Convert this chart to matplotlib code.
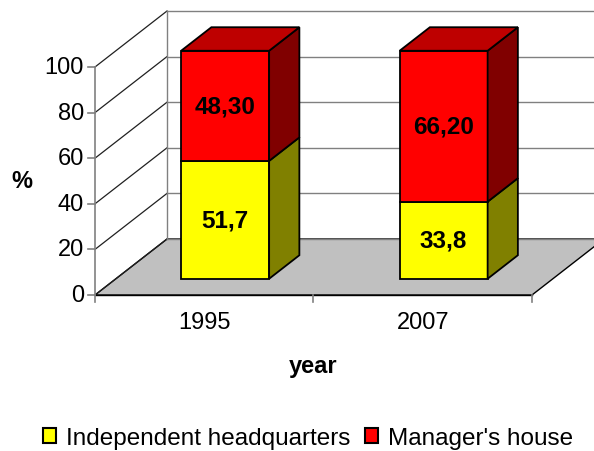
import matplotlib.pyplot as plt
from matplotlib.patches import Polygon, Patch

plt.rcParams['font.family'] = ['Liberation Sans', 'DejaVu Sans']

# Data
years = ['1995', '2007']
independent = [51.7, 33.8]
manager = [48.3, 66.2]
series_names = ['Independent headquarters', "Manager's house"]
y_ticks = [0, 20, 40, 60, 80, 100]

# Colours (front, side, top)
yellow = ('#FFFF00', '#808000', '#C0C000')
red = ('#FF0000', '#800000', '#BE0000')

# Layout in pixels of the 594x452 picture
W, H = 594, 452
x0_px, cat_px = 95, 218.5        # front-left corner, width of one category
y0_px, pct_px = 296, 2.28        # y of 0 %, pixels per percent
DX = 72 / cat_px                 # full depth offset in data units
DY = 56 / pct_px
bar_w = 88 / cat_px
z_front, z_back = 0.29, 0.71


def proj(x, y, z):
    return (x + z * DX, y + z * DY)


fig = plt.figure(figsize=(W / 100, H / 100), dpi=100)
ax = fig.add_axes([0, 0, 1, 1])
ax.set_xlim(-x0_px / cat_px, (W - x0_px) / cat_px)
ax.set_ylim(-(H - y0_px) / pct_px, y0_px / pct_px)
ax.axis('off')

ncat = len(years)
top = y_ticks[-1]

# floor
floor = [proj(0, 0, 0), proj(ncat, 0, 0), proj(ncat, 0, 1), proj(0, 0, 1)]
ax.add_patch(Polygon(floor, closed=True, facecolor='#C0C0C0', edgecolor='black', lw=1, zorder=1))

# walls and gridlines
for v in y_ticks:
    xs, ys = zip(proj(0, v, 0), proj(0, v, 1))
    ax.plot(xs, ys, color='#202020', lw=0.9, zorder=2)
    xs, ys = zip(proj(0, v, 1), proj(ncat, v, 1))
    ax.plot(xs, ys, color='#808080', lw=1, zorder=2)
xs, ys = zip(proj(0, 0, 1), proj(0, top, 1))
ax.plot(xs, ys, color='#808080', lw=1, zorder=2)

# front axes
ax.plot([0, 0], [0, top], color='#808080', lw=1.2, zorder=2)
ax.plot([0, ncat], [0, 0], color='black', lw=1, zorder=2)
tick_y = 7 / pct_px
tick_x = 7 / cat_px
for v in y_ticks:
    ax.plot([-tick_x, 0], [v, v], color='#808080', lw=1.2, zorder=2)
    ax.text(-11 / cat_px, v, str(v), ha='right', va='center', fontsize=17)
for i in range(ncat + 1):
    ax.plot([i, i], [0, -tick_y], color='#808080', lw=1.2, zorder=2)
for i, yr in enumerate(years):
    ax.text(i + 0.5, -27 / pct_px, yr, ha='center', va='center', fontsize=17)

ax.text(-73 / cat_px, 114 / pct_px, '%', ha='center', va='center', fontsize=17, fontweight='bold')
ax.text(ncat / 2, -71 / pct_px, 'year', ha='center', va='center', fontsize=17, fontweight='bold')


def box(xc, y_lo, y_hi, cols, draw_top, z):
    xl, xr = xc - bar_w / 2, xc + bar_w / 2
    front = [proj(xl, y_lo, z_front), proj(xr, y_lo, z_front),
             proj(xr, y_hi, z_front), proj(xl, y_hi, z_front)]
    side = [proj(xr, y_lo, z_front), proj(xr, y_lo, z_back),
            proj(xr, y_hi, z_back), proj(xr, y_hi, z_front)]
    ax.add_patch(Polygon(front, closed=True, facecolor=cols[0], edgecolor='black', lw=1.3, zorder=z))
    ax.add_patch(Polygon(side, closed=True, facecolor=cols[1], edgecolor='black', lw=1.3, zorder=z))
    if draw_top:
        lid = [proj(xl, y_hi, z_front), proj(xr, y_hi, z_front),
               proj(xr, y_hi, z_back), proj(xl, y_hi, z_back)]
        ax.add_patch(Polygon(lid, closed=True, facecolor=cols[2], edgecolor='black', lw=1.3, zorder=z))
    cx, cy = proj(xc, (y_lo + y_hi) / 2, z_front)
    return cx, cy


for i in range(ncat):
    xc = i + 0.5
    cx, cy = box(xc, 0, independent[i], yellow, False, 3)
    ax.text(cx, cy, f'{independent[i]:.1f}'.replace('.', ','), ha='center', va='center',
            fontsize=17.5, fontweight='bold', zorder=5)
    cx, cy = box(xc, independent[i], independent[i] + manager[i], red, True, 4)
    ax.text(cx, cy, f'{manager[i]:.2f}'.replace('.', ','), ha='center', va='center',
            fontsize=17.5, fontweight='bold', zorder=5)

handles = [Patch(facecolor=yellow[0], edgecolor='black', lw=1.5),
           Patch(facecolor=red[0], edgecolor='black', lw=1.5)]
fig.legend(handles, series_names, loc='center', bbox_to_anchor=(308 / W, 1 - 439 / H),
           ncol=2, frameon=False, fontsize=17.5, handlelength=0.55, handleheight=0.6,
           handletextpad=0.4, columnspacing=0.6, borderpad=0)

fig.savefig('out.png', dpi=100)
